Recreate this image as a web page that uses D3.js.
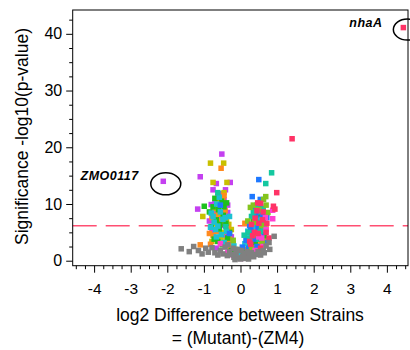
<!DOCTYPE html>
<html>
<head>
<meta charset="utf-8">
<script src="https://cdn.jsdelivr.net/npm/d3@7"></script>
<style>
  body { margin: 0; background: #fff; }
  text { font-family: "Liberation Sans", Arial, sans-serif; }
</style>
</head>
<body>
<div id="chart"></div>
<script>
// Volcano plot: log2 difference vs -log10(p)

// Data, one array per colour group, [log2 diff, -log10 p]
const grayPts = [[-1.62,2.1],[-1.40,1.6],[-1.28,2.5],[-1.15,1.8],[-1.05,1.2],[-0.95,2.2],[-0.88,1.5],
  [-0.78,2.3],[-0.70,1.4],[-0.62,1.0],[-0.55,1.8],[-0.48,1.2],[-0.42,2.4],[-0.36,0.9],[-0.35,2.8],
  [-0.30,1.6],[-0.24,1.1],[-0.20,2.2],[-0.18,0.6],[-0.15,0.2],[-0.12,1.4],[-0.08,2.0],[-0.06,0.5],
  [0.0,0.3],[0.02,1.8],[0.06,0.8],[0.10,1.3],[0.12,0.4],[0.18,1.6],[0.22,0.3],[0.24,0.9],[0.30,1.4],
  [0.36,0.7],[0.42,1.1],[0.48,1.6],[0.55,1.0],[0.62,1.8],[0.65,1.4],[0.70,2.6],[0.78,3.2],[0.80,2.0],[0.92,4.3]]
const purplePts = [[-2.11,14.0],[-0.51,18.8],[-1.10,14.8],[-0.66,13.6],[-0.28,13.8],[-0.75,12.5],[-0.41,12.5],
  [-1.17,9.1],[-0.80,9.9],[-0.72,8.8],[-0.35,8.5],[-0.60,7.5],[-0.50,6.2],[-0.78,5.2],[-0.42,4.5],
  [-0.30,3.1],[-0.62,11.3],[-0.45,10.8],[0.55,6.4],[0.62,5.0],[0.40,8.0],[0.72,3.5],[0.30,2.8],
  [-0.70,10.2],[-0.55,11.8],[-0.85,7.0],[-0.35,9.8],[-0.25,4.2],[-0.66,2.2]]
const yellowPts = [[-0.82,17.2],[-0.46,17.2],[-0.75,13.8],[-0.37,13.8],[-1.03,7.8],[-0.48,9.8],[-0.60,8.2],
  [-0.38,7.0],[-0.70,6.5],[-0.25,5.5],[-0.55,4.0],[-0.40,3.6],[-0.15,2.0],[0.20,1.5],[0.45,3.5],
  [0.60,1.8],[-0.62,10.5],[-0.50,5.0],[-0.68,9.2],[-0.32,6.4],[-0.78,3.4],[-0.45,12.0],[-0.20,3.0]]
const orangePts = [[-0.53,16.3],[-0.45,11.5],[-0.62,9.5],[-0.55,7.0],[-0.75,4.5],[-0.82,2.9],[-1.10,2.8],
  [-0.35,5.8],[-0.28,2.5],[-0.10,1.2],[0.10,2.0],[0.12,6.6],[0.25,4.0],[0.40,5.2],[0.55,3.0],
  [0.70,6.0],[0.35,2.2],[-0.68,8.0],[0.08,0.7],[-0.78,7.6],[-0.42,8.8],[-0.64,5.2],[-0.30,3.8],
  [-0.85,4.8],[-0.48,11.0],[0.30,3.0],[0.52,5.4],[0.62,3.8],[-0.05,0.6]]
const greenPts = [[-0.99,9.6],[-0.70,11.0],[-0.52,10.5],[-0.60,9.0],[-0.47,8.0],[-0.66,7.2],[-0.40,6.6],
  [-0.58,5.6],[-0.72,3.8],[-0.35,4.0],[-0.50,2.8],[-0.25,1.8],[0.05,1.5],[0.18,1.0],[0.35,7.2],
  [0.50,6.0],[0.28,4.8],[0.65,4.4],[0.42,2.0],[-0.80,6.0],[-0.45,9.5],[-0.75,9.5],[-0.56,6.4],
  [-0.38,10.2],[-0.62,3.4],[-0.30,5.0],[0.40,3.2],[0.55,7.8],[0.22,2.6],[-0.85,8.6]]
const cyanPts = [[-0.80,8.4],[-0.65,10.0],[-0.55,8.6],[-0.72,6.8],[-0.48,7.3],[-0.62,6.1],[-0.82,5.9],
  [-0.38,5.2],[-0.66,4.2],[-0.45,3.2],[-0.18,2.6],[-0.05,1.0],[0.12,3.0],[0.30,5.5],[0.45,8.6],
  [0.55,9.5],[0.60,7.0],[0.20,5.2],[-0.30,7.8],[-0.58,11.2],[-0.68,5.5],[-0.42,7.6],[-0.52,4.6],
  [-0.75,7.8],[0.38,6.0],[0.48,7.3],[0.65,5.3],[0.18,4.2],[-0.12,0.8]]
const bluePts = [[0.50,14.3],[0.32,11.3],[0.54,10.8],[0.38,9.0],[0.60,8.2],[0.72,7.6],[0.25,6.2],[0.48,5.8],
  [0.35,4.2],[0.15,3.6],[0.58,4.8],[0.68,3.2],[0.45,2.5],[-0.30,4.8],[-0.55,9.8],[0.05,2.4],
  [0.42,8.0],[0.28,5.4],[0.52,9.2],[0.62,6.8],[0.40,3.8],[0.22,2.2]]
const tealPts = [[0.85,15.5],[0.69,13.6],[0.45,9.8],[0.58,8.8],[0.30,7.8],[0.22,5.0],[0.42,6.8],[0.65,6.5],
  [0.50,3.8],[-0.62,12.0],[-0.40,6.0],[0.10,4.5],[0.35,8.6],[0.55,5.2],[0.25,3.9],[0.62,9.2]]
const limePts = [[0.69,11.3],[0.63,10.8],[0.27,9.4],[0.75,8.5],[0.35,9.8],[0.58,6.2],[0.20,7.0],[0.45,4.6],
  [0.30,2.0],[-0.20,3.6],[0.50,9.0],[0.38,6.8],[0.60,3.4],[0.70,9.8]]
const pinkPts = [[0.88,7.4],[0.88,8.9],[0.70,5.5],[0.50,4.2],[-0.20,1.0],[0.15,0.8],[0.62,2.5],[-0.55,3.0],
  [0.58,4.0],[0.40,1.8],[0.30,0.9],[-0.35,1.4],[0.02,0.4],[0.68,7.6]]
const redPts = [[4.45,41.1],[1.41,21.5],[0.99,12.0],[0.47,10.2],[0.90,9.6],[0.94,9.1],[0.55,10.1],[0.40,7.5],
  [0.62,8.6],[0.30,6.4],[0.50,6.6],[0.70,5.0],[0.78,4.0],[0.25,3.4],[0.55,2.2],[0.38,5.0],[0.15,1.2],
  [0.45,8.8],[0.33,4.4],[0.60,7.2],[0.72,6.6],[0.28,2.9],[0.48,4.8]]

const xTicks = [-4, -3, -2, -1, 0, 1, 2, 3, 4]
const yTicks = [0, 10, 20, 30, 40]
const threshold = 6.17
const labels = [
  { name: 'nhaA', x: 4.45, y: 41.1 },
  { name: 'ZMO0117', x: -2.11, y: 14.0 },
]

const groups = [
  { pts: purplePts, color: '#c440f0' },
  { pts: yellowPts, color: '#c8c000' },
  { pts: orangePts, color: '#ff8a1e' },
  { pts: greenPts, color: '#1ec01e' },
  { pts: cyanPts, color: '#1ec0d2' },
  { pts: bluePts, color: '#1e78ff' },
  { pts: tealPts, color: '#14c8a0' },
  { pts: limePts, color: '#84c41e' },
  { pts: pinkPts, color: '#ff40d2' },
  { pts: redPts, color: '#ff3366' },
  { pts: grayPts, color: '#808080' },
]

// Size & frame
const svgWidth = 410, svgHeight = 350
const plot = { left: 72.7, right: 408, top: 10, bottom: 265.7 }

const svg = d3.select('#chart').append('svg')
  .attr('width', svgWidth)
  .attr('height', svgHeight)
  .style('background', '#fff')

const x = d3.scaleLinear().domain([-4.585, 4.577]).range([plot.left, plot.right])
const y = d3.scaleLinear().domain([-0.88, 44.2]).range([plot.bottom, plot.top])

// Threshold line sits under the points
svg.append('line')
  .attr('x1', plot.left).attr('x2', plot.right)
  .attr('y1', y(threshold)).attr('y2', y(threshold))
  .attr('stroke', '#ff4f72')
  .attr('stroke-width', 1.6)
  .attr('stroke-dasharray', '24,9')

// Points
const sz = 5.5
groups.forEach(g => {
  svg.append('g').selectAll('rect')
    .data(g.pts)
    .join('rect')
    .attr('x', d => x(d[0]) - sz / 2)
    .attr('y', d => y(d[1]) - sz / 2)
    .attr('width', sz)
    .attr('height', sz)
    .attr('fill', g.color)
})

// Frame
svg.append('rect')
  .attr('x', plot.left).attr('y', plot.top)
  .attr('width', plot.right - plot.left)
  .attr('height', plot.bottom - plot.top)
  .attr('fill', 'none')
  .attr('stroke', '#000')
  .attr('stroke-width', 1)

// Axes: major + minor ticks
const xMinor = d3.range(-4.5, 4.51, 0.25).filter(v => v % 1 !== 0)
const yMinor = d3.range(0, 44, 2.5).filter(v => v % 10 !== 0)

const xAxisG = svg.append('g').attr('transform', `translate(0,${plot.bottom})`)
xAxisG.append('g').call(d3.axisBottom(x).tickValues(xMinor).tickSize(3.5).tickFormat(''))
xAxisG.append('g')
  .call(d3.axisBottom(x).tickValues(xTicks).tickSize(7).tickPadding(10).tickFormat(d => d < 0 ? '-' + Math.abs(d) : d))
  .style('font-size', '15.5px')
xAxisG.selectAll('.domain').remove()

const yAxisG = svg.append('g').attr('transform', `translate(${plot.left},0)`)
yAxisG.append('g').call(d3.axisLeft(y).tickValues(yMinor).tickSize(3.5).tickFormat(''))
yAxisG.append('g')
  .call(d3.axisLeft(y).tickValues(yTicks).tickSize(6.5).tickPadding(4))
  .style('font-size', '16px')
yAxisG.selectAll('.domain').remove()

svg.selectAll('.tick line').attr('stroke', '#000')
svg.selectAll('.tick text').attr('fill', '#000').style('font-family', '"Liberation Sans", Arial, sans-serif')

// Axis titles
svg.append('text')
  .attr('x', 240).attr('y', 320.5)
  .attr('text-anchor', 'middle')
  .style('font-size', '17.5px')
  .text('log2 Difference between Strains')
svg.append('text')
  .attr('x', 238).attr('y', 343.5)
  .attr('text-anchor', 'middle')
  .style('font-size', '17.5px')
  .text('= (Mutant)-(ZM4)')
svg.append('text')
  .attr('transform', 'translate(28,136.5) rotate(-90)')
  .attr('text-anchor', 'middle')
  .style('font-size', '17.5px')
  .text('Significance -log10(p-value)')

// Annotated genes
svg.append('text')
  .attr('x', 349.3).attr('y', 26.5)
  .style('font-size', '12.5px').style('font-weight', 'bold').style('font-style', 'italic')
  .style('letter-spacing', '0.5px')
  .text(labels[0].name)
svg.append('ellipse')
  .attr('cx', x(labels[0].x) + 4).attr('cy', y(labels[0].y) + 2)
  .attr('rx', 14).attr('ry', 10.5)
  .attr('fill', 'none').attr('stroke', '#000').attr('stroke-width', 1.5)

svg.append('text')
  .attr('x', 80.5).attr('y', 180)
  .style('font-size', '12.5px').style('font-weight', 'bold').style('font-style', 'italic')
  .style('letter-spacing', '0.5px')
  .text(labels[1].name)
svg.append('ellipse')
  .attr('cx', x(labels[1].x) + 2.5).attr('cy', y(labels[1].y) + 2.5)
  .attr('rx', 15).attr('ry', 11)
  .attr('fill', 'none').attr('stroke', '#000').attr('stroke-width', 1.5)
</script>
</body>
</html>
